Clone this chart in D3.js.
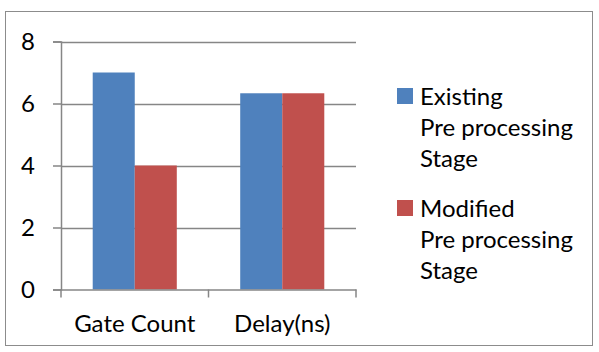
<!DOCTYPE html>
<html><head><meta charset="utf-8">
<script src="https://cdn.jsdelivr.net/npm/d3@7"></script>
<style>body{margin:0;background:#fff}svg{display:block}text{font-family:Lato,"Open Sans",sans-serif;fill:#000}</style>
</head><body><svg id="c" width="599" height="352"></svg>
<script>
const categories = ["Gate Count", "Delay(ns)"];
const seriesNames = ["Existing Pre processing Stage", "Modified Pre processing Stage"];
const existing = [7, 6.33];
const modified = [4, 6.33];
const yTicks = [0, 2, 4, 6, 8];
const legendLines = [["Existing", "Pre processing", "Stage"], ["Modified", "Pre processing", "Stage"]];
const colors = ["#4F81BD", "#C0504D"];

const FS = 24;
const svg = d3.select("#c");
svg.append("rect").attr("x",5.5).attr("y",11.5).attr("width",587).attr("height",334)
  .attr("fill","#fff").attr("stroke","#8c8c8c").attr("stroke-width",1);

const x0 = 61, x1 = 356, yTop = 41.5, yBot = 289.5;
const x = d3.scaleBand().domain(categories).range([x0, x1]).paddingInner(0).paddingOuter(0);
const y = d3.scaleLinear().domain([0, 8]).range([yBot, yTop]);

// gridlines
svg.append("g").selectAll("line").data(yTicks.filter(d=>d>0)).join("line")
  .attr("x1", x0).attr("x2", x1).attr("y1", d=>Math.round(y(d))+0.5).attr("y2", d=>Math.round(y(d))+0.5)
  .attr("stroke","#868686").attr("stroke-width",1.5);

// bars
const bw = x.bandwidth();
const barW = bw * 0.285;
const data = [existing, modified];
data.forEach((vals, si) => {
  svg.append("g").selectAll("rect").data(categories).join("rect")
    .attr("x", (c) => x(c) + bw/2 - barW + si*barW)
    .attr("width", barW)
    .attr("y", (c,i) => y(vals[i]))
    .attr("height", (c,i) => y(0) - y(vals[i]))
    .attr("fill", colors[si]);
});

// y axis
const yAxis = svg.append("g").attr("transform", `translate(${x0},0)`)
  .call(d3.axisLeft(y).tickValues(yTicks).tickSize(8).tickPadding(18).tickFormat(d3.format("d")));
yAxis.select(".domain").attr("stroke","#868686").attr("stroke-width",1.5);
yAxis.selectAll(".tick line").attr("stroke","#868686").attr("stroke-width",1.5);
yAxis.selectAll(".tick text").attr("font-size",FS).attr("font-family","Lato").attr("fill","#000");

// x axis
const xAxis = svg.append("g").attr("transform", `translate(0,${yBot})`)
  .call(d3.axisBottom(x).tickSize(0).tickPadding(0));
xAxis.select(".domain").attr("stroke","#868686").attr("stroke-width",1.5);
xAxis.selectAll(".tick text").attr("font-size",FS).attr("font-family","Lato").attr("fill","#000")
  .attr("dy", null).attr("y", 332 - yBot);
// category boundary ticks
const bounds = [x0, x0 + bw, x1];
svg.append("g").selectAll("line").data(bounds).join("line")
  .attr("x1", d=>d).attr("x2", d=>d).attr("y1", yBot).attr("y2", yBot+8)
  .attr("stroke","#868686").attr("stroke-width",1.5);

// legend
const leg = svg.append("g");
legendLines.forEach((lines, i) => {
  const top = 88 + i*112;
  leg.append("rect").attr("x",397).attr("y",top).attr("width",16).attr("height",16).attr("fill",colors[i]);
  lines.forEach((t, j) => {
    leg.append("text").attr("x",420).attr("y", top + 17 + j*31).attr("font-size",FS).text(t);
  });
});
</script></body></html>
